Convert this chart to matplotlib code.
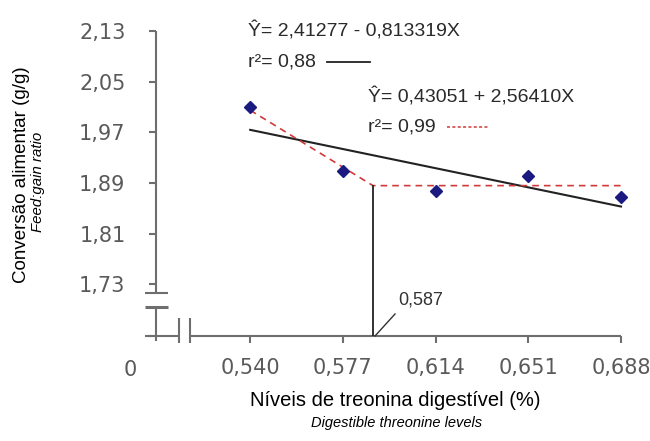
import matplotlib
matplotlib.use("Agg")
import matplotlib.pyplot as plt
from matplotlib.lines import Line2D

# ---- data ----
x_levels = [0.540, 0.577, 0.614, 0.651, 0.688]
x_ticklabels = ["0,540", "0,577", "0,614", "0,651", "0,688"]
fcr = [2.010, 1.909, 1.878, 1.901, 1.868]
y_ticks = [1.73, 1.81, 1.89, 1.97, 2.05, 2.13]
y_ticklabels = ["1,73", "1,81", "1,89", "1,97", "2,05", "2,13"]
lin_x = [0.540, 0.688]
lin_y = [1.974, 1.853]
plat_x = [0.540, 0.589, 0.688]
plat_y = [2.005, 1.886, 1.886]
break_x = 0.589
break_label = "0,587"
eq1 = "Ŷ= 2,41277 - 0,813319X"
r1 = "r²= 0,88"
eq2 = "Ŷ= 0,43051 + 2,56410X"
r2 = "r²= 0,99"

W, H = 650, 441
fig = plt.figure(figsize=(6.5, 4.41), dpi=100)
fig.patch.set_facecolor("white")

def fx(p): return p / W
def fy(p): return 1 - p / H

L, R, T, B = 156, 621, 31, 336
ax = fig.add_axes([fx(L), fy(B), (R - L) / W, (B - T) / H])
x0, y0 = 0.5024, 1.6487
ax.set_xlim(x0, 0.688)
ax.set_ylim(y0, 2.13)
for s in ax.spines.values():
    s.set_visible(False)

axis_col = "#6e6e6e"
tick_col = "#5a5a5a"
ax.set_xticks(x_levels)
ax.set_xticklabels(x_ticklabels)
ax.set_yticks(y_ticks)
ax.set_yticklabels(y_ticklabels)
ax.tick_params(axis="both", direction="out", length=5, width=1.5, color=axis_col,
               labelcolor=tick_col, labelsize=15)
ax.tick_params(axis="x", pad=11)
ax.tick_params(axis="y", pad=17)
for lab in ax.get_xticklabels() + ax.get_yticklabels():
    lab.set_family("DejaVu Sans")

# spines with breaks (axes fraction)
tr = ax.transAxes
def axline(xs, ys, lw=1.5):
    ax.add_line(Line2D(xs, ys, transform=tr, color=axis_col, lw=lw, clip_on=False,
                       solid_capstyle="butt"))
yb_lo, yb_hi = (B - 307) / (B - T), (B - 293) / (B - T)
xb_lo, xb_hi = (179 - L) / (R - L), (190 - L) / (R - L)
axline([0, 0], [yb_hi, 1])
axline([0, 0], [-0.018, yb_lo])
axline([-0.024, 0.026], [yb_hi, yb_hi])
axline([-0.024, 0.026], [yb_lo, yb_lo], lw=2.2)
axline([-0.018, xb_lo], [0, 0])
axline([xb_hi, 1], [0, 0])
axline([xb_lo, xb_lo], [-0.023, 0.059])
axline([xb_hi, xb_hi], [-0.023, 0.059])
axline([-0.024, 0], [0, 0])

fig.text(fx(130), fy(370), "0", ha="center", va="center", fontsize=15,
         color=tick_col, family="DejaVu Sans")

# fitted lines
ax.plot(lin_x, lin_y, color="#222222", lw=1.5, clip_on=False, zorder=3)
ax.plot(plat_x, plat_y, color="#d03a3a", lw=1.2, ls=(0, (4, 3)), clip_on=False, zorder=3)
ax.plot([break_x, break_x], [y0, plat_y[1]], color="#222222", lw=1.3, zorder=3)
ax.plot(x_levels, fcr, ls="none", marker="D", ms=6, color="#1a1a80",
        clip_on=False, zorder=4)

# break label with leader
fig.add_artist(Line2D([fx(375), fx(395)], [fy(336), fy(314)], color="#333333", lw=1.0))
fig.text(fx(398), fy(300), break_label, ha="left", va="center", fontsize=13,
         color="#333333", family="Liberation Sans")

# equations
eq_col = "#2a2a2a"
fig.text(fx(248), fy(31), eq1, ha="left", va="center", fontsize=14, color=eq_col,
         family="Liberation Sans")
fig.text(fx(248), fy(62), r1, ha="left", va="center", fontsize=14, color=eq_col,
         family="Liberation Sans")
fig.add_artist(Line2D([fx(327), fx(370)], [fy(62), fy(62)], color="#222222", lw=1.3))
fig.text(fx(368), fy(97), eq2, ha="left", va="center", fontsize=14, color=eq_col,
         family="Liberation Sans")
fig.text(fx(368), fy(127), r2, ha="left", va="center", fontsize=14, color=eq_col,
         family="Liberation Sans")
fig.add_artist(Line2D([fx(447), fx(488)], [fy(127), fy(127)], color="#d03a3a", lw=1.1,
                      ls=(0, (2, 1.5))))

# axis titles
fig.text(fx(395), fy(401), "Níveis de treonina digestível (%)", ha="center", va="center",
         fontsize=14.5, family="Liberation Sans", color="black")
fig.text(fx(397), fy(423), "Digestible threonine levels", ha="center", va="center",
         fontsize=10.5, style="italic", family="Liberation Sans", color="black")
fig.text(fx(22), fy(175), "Conversão alimentar (g/g)", ha="center", va="center",
         rotation=90, fontsize=13.5, family="Liberation Sans", color="black")
fig.text(fx(38), fy(182), "Feed:gain ratio", ha="center", va="center",
         rotation=90, fontsize=10.8, style="italic", family="Liberation Sans", color="black")

fig.savefig("out.png", dpi=100, facecolor="white")
